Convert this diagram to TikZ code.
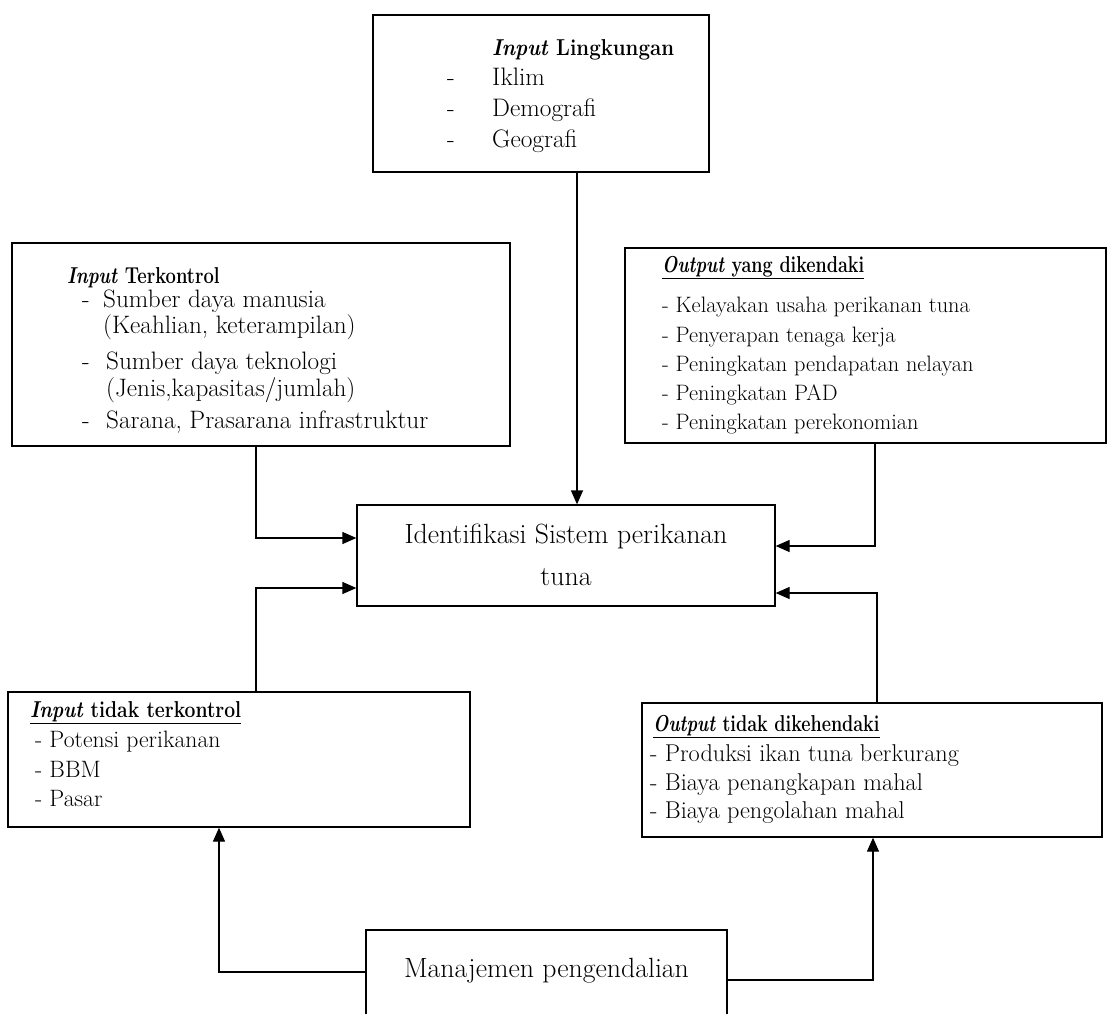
\documentclass[tikz,border=0pt]{standalone}
\usetikzlibrary{arrows.meta}
\begin{document}
\begin{tikzpicture}[x=1pt,y=-1pt,
  box/.style={draw, line width=1.3pt, rectangle, inner sep=0pt},
  txt/.style={anchor=base west, inner sep=0pt},
  hd/.style={anchor=base west, inner sep=0pt, font=\fontsize{23}{27}\selectfont\bfseries},
  ctxt/.style={anchor=base, inner sep=0pt, font=\fontsize{27.8}{32}\selectfont},
  arr/.style={line width=1.3pt, -{Triangle[length=14pt,width=12pt]}}]
\useasboundingbox (0,0) rectangle (1112,1013);
\clip (0,0) rectangle (1112,1013);
\fill[white] (0,0) rectangle (1112,1013);

% boxes
\node[box, minimum width=336pt, minimum height=157pt] (top) at (541,93.5) {};
\node[box, minimum width=498pt, minimum height=203pt] (lt) at (261,344.5) {};
\node[box, minimum width=481pt, minimum height=195pt] (rt) at (865.5,345.5) {};
\node[box, minimum width=418pt, minimum height=101pt] (cen) at (566,555.5) {};
\node[box, minimum width=462pt, minimum height=135pt] (lb) at (239,759.5) {};
\node[box, minimum width=460pt, minimum height=134pt] (rb) at (872,770) {};
\node[box, minimum width=361pt, minimum height=100pt] (mg) at (546.5,980) {};

% top box text
\begin{scope}[every node/.append style={font=\fontsize{25.3}{30}\selectfont}]
\node[hd] (t0) at (492,55) {\scalebox{0.89}[1]{\textit{Input} Lingkungan}};
\node[txt] (t1d) at (447,85) {-};
\node[txt] (t1) at (492,85) {Iklim};
\node[txt] (t2d) at (447,116) {-};
\node[txt] (t2) at (492,116) {Demografi};
\node[txt] (t3d) at (447,147) {-};
\node[txt] (t3) at (492,147) {Geografi};
\end{scope}

% left top box text
\begin{scope}[every node/.append style={font=\fontsize{25.2}{30}\selectfont}]
\node[hd] (l0) at (67,283) {\scalebox{0.80}[1]{\textit{Input} Terkontrol}};
\node[txt] (l1d) at (82,307) {-};
\node[txt] (l1) at (103,307) {Sumber daya manusia};
\node[txt] (l2) at (103,333) {(Keahlian, keterampilan)};
\node[txt] (l3d) at (82,369) {-};
\node[txt] (l3) at (106,369) {Sumber daya teknologi};
\node[txt] (l4) at (106,396) {(Jenis,kapasitas/jumlah)};
\node[txt] (l5d) at (82,428) {-};
\node[txt] (l5) at (106,428) {Sarana, Prasarana infrastruktur};
\end{scope}

% right top box text
\begin{scope}[every node/.append style={font=\fontsize{22.3}{28}\selectfont}]
\node[hd] (r0) at (662,272) {\scalebox{0.78}[1]{\underline{\textit{Output} yang dikendaki}}};
\node[txt] (r1) at (662,312) {- Kelayakan usaha perikanan tuna};
\node[txt] (r2) at (662,342) {- Penyerapan tenaga kerja};
\node[txt] (r3) at (662,371) {- Peningkatan pendapatan nelayan};
\node[txt] (r4) at (662,400) {- Peningkatan PAD};
\node[txt] (r5) at (662,429) {- Peningkatan perekonomian};
\end{scope}

% center text
\node[ctxt] (c1) at (566,543) {Identifikasi Sistem perikanan};
\node[ctxt] (c2) at (566,585) {tuna};

% lower left text
\begin{scope}[every node/.append style={font=\fontsize{23.7}{28}\selectfont}]
\node[hd] (b0) at (30,717) {\scalebox{0.84}[1]{\underline{\textit{Input} tidak terkontrol}}};
\node[txt] (b1) at (35,747) {- Potensi perikanan};
\node[txt] (b2) at (35,777) {- BBM};
\node[txt] (b3) at (35,806) {- Pasar};
\end{scope}

% lower right text
\begin{scope}[every node/.append style={font=\fontsize{24.3}{28}\selectfont}]
\node[hd] (s0) at (653,731) {\scalebox{0.78}[1]{\underline{\textit{Output} tidak dikehendaki}}};
\node[txt] (s1) at (650,761) {- Produksi ikan tuna berkurang};
\node[txt] (s2) at (650,790) {- Biaya penangkapan mahal};
\node[txt] (s3) at (650,818) {- Biaya pengolahan mahal};
\end{scope}

% management text
\node[ctxt] (m1) at (546.5,977) {Manajemen pengendalian};

% connectors
\coordinate (xa) at (577,0);
\coordinate (e1) at (256,538);
\coordinate (e2) at (875,546);
\coordinate (e3) at (256,588);
\coordinate (e4) at (877,593);
\coordinate (e5) at (219,972);
\coordinate (e6) at (873,980);
\draw[arr] (top.south -| xa) -- (cen.north -| xa);
\draw[arr] (lt.south -| e1) |- (cen.west |- e1);
\draw[arr] (rt.south -| e2) |- (cen.east |- e2);
\draw[arr] (lb.north -| e3) |- (cen.west |- e3);
\draw[arr] (rb.north -| e4) |- (cen.east |- e4);
\draw[arr] (mg.west |- e5) -| (lb.south -| e5);
\draw[arr] (mg.east |- e6) -| (rb.south -| e6);
\end{tikzpicture}
\end{document}
